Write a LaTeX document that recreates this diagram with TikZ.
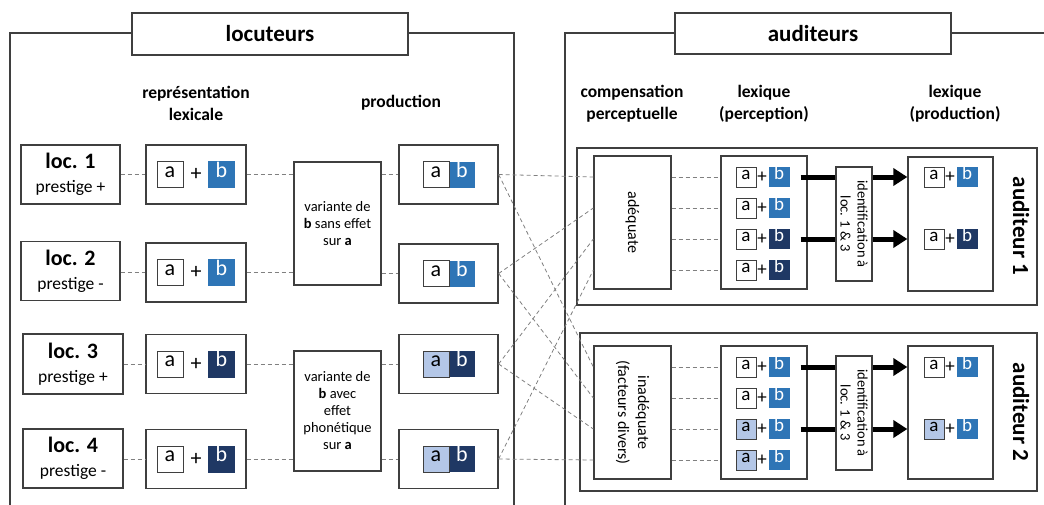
\documentclass[tikz,border=0pt]{standalone}
\usepackage{fontspec}
\setmainfont{Carlito}
\usetikzlibrary{arrows.meta,calc}
\definecolor{bmid}{HTML}{2E75B6}
\definecolor{bdark}{HTML}{1F3864}
\definecolor{alight}{HTML}{B4C7E7}
\definecolor{edge}{HTML}{3F3F3F}
\definecolor{dashgray}{HTML}{808080}

% a + b pair in the speakers' lexicon
\newcommand\lexpair[5]{%
  \node[#4] (a#1) at ({#2-26},#3) {a};
  \node[plusbig] (p#1) at (#2,#3) {+};
  \node[#5,minimum width=27pt,minimum height=27pt] (b#1) at ({#2+25.5},#3) {b};}
% joined a|b pair as produced
\newcommand\prodpair[5]{%
  \node[#5] (b#1) at ({#2+13},#3) {b};
  \node[#4] (a#1) at ({#2-13},#3) {a};}
% small a + b pair in the listeners' lexicon
\newcommand\smallpair[5]{%
  \node[#4,small] (a#1) at (#2,#3) {a};
  \node[plussmall] (p#1) at ({#2+16},#3) {+};
  \node[#5,small,minimum width=21pt] (b#1) at ({#2+33},#3) {b};}
% two-line speaker label
\newcommand\spk[2]{{\fontsize{22}{25}\selectfont\bfseries #1}\\#2}

\begin{document}
\begin{tikzpicture}[x=1pt,y=-1pt,
  box/.style={draw=edge, line width=1.3pt, fill=white, inner sep=0pt},
  frame/.style={draw=edge, line width=1.2pt},
  title/.style={box, font=\fontsize{23}{26}\selectfont\bfseries},
  head/.style={font=\fontsize{17.5}{22}\selectfont\bfseries, align=center},
  link/.style={draw=dashgray, line width=0.8pt, dash pattern=on 4pt off 3pt},
  heavy/.style={line width=5pt, draw=black},
  letter/.style={inner sep=0pt, text height=0.62em, text depth=0.06em,
    font=\fontsize{22}{22}\selectfont, minimum width=26pt, minimum height=26pt},
  wa/.style={letter, draw=edge, line width=1pt, fill=white},
  la/.style={wa, fill=alight},
  mb/.style={letter, fill=bmid, text=white},
  db/.style={letter, fill=bdark, text=white},
  small/.style={font=\fontsize{19}{19}\selectfont, minimum width=20pt, minimum height=20pt},
  plusbig/.style={inner sep=0pt, font=\fontsize{22}{22}\selectfont},
  plussmall/.style={inner sep=0pt, font=\fontsize{19}{19}\selectfont},
  note/.style={box, font=\fontsize{14.5}{17}\selectfont, align=center},
  speaker/.style={box, minimum width=99pt, minimum height=59pt, align=center,
    font=\fontsize{17.5}{24}\selectfont},
]
\useasboundingbox (0,0) rectangle (1044,504);
\clip (0,0) rectangle (1044,504);

% outer frames
\draw[frame] (10,520) -- (10,33) -- (514,33) -- (514,520);
\draw[frame] (565,520) -- (565,33) -- (1060,33);
\node[title, minimum width=276pt, minimum height=42pt] (tloc) at (270,34) {locuteurs};
\node[title, minimum width=276pt, minimum height=41pt] (taud) at (813,33.5) {auditeurs};

% column headings
\node[head] (hlex) at (196,103) {représentation\\lexicale};
\node[head] (hprod) at (401,103) {production};
\node[head] (hcomp) at (632,104) {compensation\\perceptuelle};
\node[head] (hperc) at (764,104) {lexique\\(perception)};
\node[head] (hlprod) at (955,104) {lexique\\(production)};

% speakers
\node[speaker] (loc1) at (70.5,174.5) {\spk{loc. 1}{prestige +}};
\node[speaker] (loc2) at (70.5,271) {\spk{loc. 2}{prestige -}};
\node[speaker, minimum width=100pt, minimum height=60pt] (loc3) at (73,364) {\spk{loc. 3}{prestige +}};
\node[speaker, minimum width=100pt] (loc4) at (73,458.5) {\spk{loc. 4}{prestige -}};

% lexical representations
\foreach \n/\y in {1/174.5, 2/272.5, 3/364, 4/459}
  \node[box, minimum width=100pt, minimum height=59pt] (lex\n) at (196,\y) {};
\lexpair{lx1}{196}{174.5}{wa}{mb}
\lexpair{lx2}{196}{272.5}{wa}{mb}
\lexpair{lx3}{196}{364}{wa}{db}
\lexpair{lx4}{196}{459}{wa}{db}

% phonetic variants
\node[note, minimum width=87pt, minimum height=123pt] (var1) at (337.5,223.5)
  {variante de\\\textbf{b} sans effet\\sur \textbf{a}};
\node[note, minimum width=87pt, minimum height=120pt] (var2) at (337.5,411)
  {variante de\\\textbf{b} avec\\effet\\phonétique\\sur \textbf{a}};

% productions
\foreach \n/\y in {1/174.5, 2/273.5, 3/364, 4/459}
  \node[box, minimum width=99pt, minimum height=59pt] (prod\n) at (448.5,\y) {};
\prodpair{pr1}{449}{174.5}{wa}{mb}
\prodpair{pr2}{449}{273.5}{wa}{mb}
\prodpair{pr3}{449}{364}{la}{db}
\prodpair{pr4}{449}{459}{la}{db}

% speaker-side links
\foreach \n in {1,...,4}
  \draw[link] (loc\n.east |- lex\n.west) -- (lex\n.west);
\draw[link] (lex1.east) -- (lex1.east -| var1.west);
\draw[link] (lex2.east) -- (lex2.east -| var1.west);
\draw[link] (lex3.east) -- (lex3.east -| var2.west);
\draw[link] (lex4.east) -- (lex4.east -| var2.west);
\draw[link] (var1.east |- prod1.west) -- (prod1.west);
\draw[link] (var1.east |- prod2.west) -- (prod2.west);
\draw[link] (var2.east |- prod3.west) -- (prod3.west);
\draw[link] (var2.east |- prod4.west) -- (prod4.west);

% listeners
\node[box, minimum width=460pt, minimum height=157pt] (aud1) at (807,226.5) {};
\node[box, minimum width=457pt, minimum height=158pt] (aud2) at (808.5,412) {};

\node[box, minimum width=77pt, minimum height=133pt] (adq) at (632.5,222.5) {};
\node[rotate=-90, font=\fontsize{16}{20}\selectfont] (adqt) at (adq) {adéquate};
\node[box, minimum width=77pt, minimum height=133pt] (inadq) at (632.5,412.5) {};
\node[rotate=-90, font=\fontsize{16}{20}\selectfont, align=center] (inadqt) at (inadq) {inadéquate\\(facteurs divers)};

\node[box, minimum width=86pt, minimum height=133pt] (lexp1) at (764,222.5) {};
\node[box, minimum width=86pt, minimum height=133pt] (lexp2) at (764,412.5) {};
\smallpair{pu1}{746}{177}{wa}{mb}
\smallpair{pu2}{746}{208}{wa}{mb}
\smallpair{pu3}{746}{239}{wa}{db}
\smallpair{pu4}{746}{270}{wa}{db}
\smallpair{pv1}{746}{367}{wa}{mb}
\smallpair{pv2}{746}{398}{wa}{mb}
\smallpair{pv3}{746}{429}{la}{mb}
\smallpair{pv4}{746}{460}{la}{mb}

\node[box, minimum width=36pt, minimum height=114pt] (id1) at (854,224) {};
\node[rotate=-90, font=\fontsize{14.5}{17}\selectfont, align=center] (id1t) at (id1) {identification à\\loc. 1 \& 3};
\node[box, minimum width=36pt, minimum height=114pt] (id2) at (854,413) {};
\node[rotate=-90, font=\fontsize{14.5}{17}\selectfont, align=center] (id2t) at (id2) {identification à\\loc. 1 \& 3};

\node[box, minimum width=85pt, minimum height=134pt] (lexq1) at (950.5,224) {};
\node[box, minimum width=85pt, minimum height=133pt] (lexq2) at (950.5,412.5) {};
\smallpair{qu1}{934}{177}{wa}{mb}
\smallpair{qu2}{934}{239}{wa}{db}
\smallpair{qv1}{934}{367}{wa}{mb}
\smallpair{qv2}{934}{429}{la}{mb}

\node[rotate=-90, font=\fontsize{23}{26}\selectfont\bfseries] (lab1) at (1021,226) {auditeur 1};
\node[rotate=-90, font=\fontsize{23}{26}\selectfont\bfseries] (lab2) at (1021,412) {auditeur 2};

% productions reaching each listener
\foreach \n in {1,...,4} {
  \draw[link] (prod\n.east) -- (adq.west |- apu\n);
  \draw[link] (prod\n.east) -- (inadq.west |- apv\n);
  \draw[link] (adq.east |- apu\n) -- (lexp1.west |- apu\n);
  \draw[link] (inadq.east |- apv\n) -- (lexp2.west |- apv\n);
}

% identification arrows
\foreach \r/\i in {bpu1/1, bpu3/1, bpv1/2, bpv3/2} {
  \draw[heavy] ([xshift=11pt]\r.east) -- (id\i.west |- \r.east);
  \draw[heavy, -{Triangle[length=14pt,width=17pt]}] (id\i.east |- \r.east) -- (lexq\i.west |- \r.east);
}
\end{tikzpicture}
\end{document}
